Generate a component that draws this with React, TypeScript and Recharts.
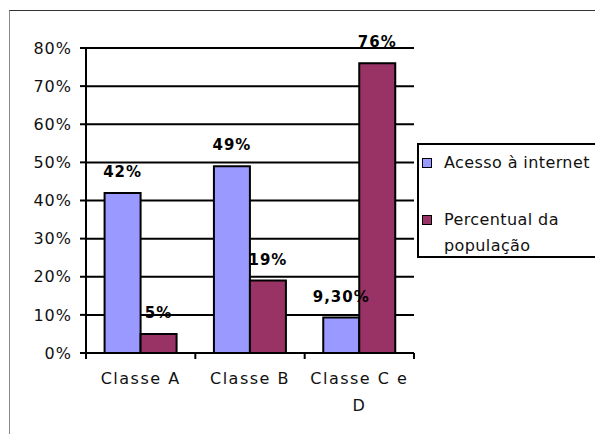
import { BarChart, Bar, XAxis, YAxis, CartesianGrid, LabelList, Text } from 'recharts'

const categories = ['Classe A', 'Classe B', 'Classe C e D']
const acessoInternet = [42, 49, 9.3]
const percentualPopulacao = [5, 19, 76]
const acessoLabels = ['42%', '49%', '9,30%']
const populacaoLabels = ['5%', '19%', '76%']
const yTicks = [0, 10, 20, 30, 40, 50, 60, 70, 80]

const seriesNames = ['Acesso à internet', 'Percentual da população']
const seriesColors = ['#9999FF', '#993366']

const data = categories.map((name, i) => ({
  name,
  acesso: acessoInternet[i],
  populacao: percentualPopulacao[i],
  acessoLabel: acessoLabels[i],
  populacaoLabel: populacaoLabels[i],
}))

const FONT = '"DejaVu Sans", Verdana, sans-serif'

function CategoryTick(props: any) {
  const { x, y, payload, index } = props
  const half = payload?.offset ?? 0
  const axisY = y - 20
  return (
    <g>
      <line x1={x - half} y1={axisY} x2={x - half} y2={axisY + 6} stroke="#000" strokeWidth={2} />
      {index === categories.length - 1 && (
        <line x1={x + half} y1={axisY} x2={x + half} y2={axisY + 6} stroke="#000" strokeWidth={2} />
      )}
      <Text
        x={x}
        y={y}
        width={100}
        textAnchor="middle"
        verticalAnchor="start"
        lineHeight="1.65em"
        fill="#111"
        style={{ fontSize: 16, fontFamily: FONT, letterSpacing: 1.5 }}
      >
        {payload.value}
      </Text>
    </g>
  )
}

// legend drawn as plain html so it does not shrink the plot area
function LegendBox() {
  return (
    <div
      style={{
        position: 'absolute',
        left: 409,
        top: 135,
        boxSizing: 'border-box',
        width: 190,
        height: 115,
        border: '2px solid #000',
        padding: '5px 0 0 3px',
        fontFamily: FONT,
        fontSize: 16,
        letterSpacing: 0.4,
        color: '#111',
        background: '#fff',
        overflow: 'hidden',
      }}
    >
      {seriesNames.map((name, i) => (
        <div
          key={name}
          style={{ display: 'flex', alignItems: 'flex-start', lineHeight: '26px', marginTop: i === 0 ? 0 : 31 }}
        >
          <span
            style={{
              display: 'inline-block',
              boxSizing: 'border-box',
              width: 10,
              height: 10,
              marginTop: 8,
              marginRight: 12,
              border: '1px solid #000',
              background: seriesColors[i],
              flex: 'none',
            }}
          />
          <span style={{ width: 150 }}>{name}</span>
        </div>
      ))}
    </div>
  )
}

export default function App() {
  return (
    <div style={{ position: 'relative', width: 595, height: 426, overflow: 'hidden', background: '#fff' }}>
      <div
        style={{
          position: 'absolute',
          left: 1,
          top: 2,
          width: 594,
          height: 424,
          boxSizing: 'border-box',
          borderTop: '1px solid #333',
          borderLeft: '1px solid #888',
        }}
      />
      <BarChart
        width={595}
        height={426}
        data={data}
        margin={{ top: 40, right: 189, left: 0, bottom: 21 }}
        barCategoryGap="17%"
        barGap={0}
        style={{ position: 'absolute', left: 0, top: 0 }}
      >
        <CartesianGrid vertical={false} stroke="#000" strokeWidth={2} />
        <XAxis
          dataKey="name"
          height={60}
          axisLine={{ stroke: '#000', strokeWidth: 2 }}
          tickLine={false}
          tickSize={0}
          tickMargin={20}
          interval={0}
          tick={<CategoryTick />}
        />
        <YAxis
          width={78}
          domain={[0, 80]}
          ticks={yTicks}
          interval={0}
          tickFormatter={(v) => `${v}%`}
          axisLine={{ stroke: '#000', strokeWidth: 2 }}
          tickLine={{ stroke: '#000', strokeWidth: 2 }}
          tickSize={6}
          tickMargin={8}
          tick={{ fontSize: 16, fontFamily: FONT, fill: '#111', letterSpacing: 1 }}
        />
        <Bar dataKey="acesso" name={seriesNames[0]} fill={seriesColors[0]} stroke="#000" strokeWidth={2} isAnimationActive={false}>
          <LabelList
            dataKey="acessoLabel"
            position="top"
            offset={16}
            style={{ fontSize: 15, fontWeight: 'bold', fontFamily: FONT, fill: '#000', letterSpacing: 1 }}
          />
        </Bar>
        <Bar dataKey="populacao" name={seriesNames[1]} fill={seriesColors[1]} stroke="#000" strokeWidth={2} isAnimationActive={false}>
          <LabelList
            dataKey="populacaoLabel"
            position="top"
            offset={16}
            style={{ fontSize: 15, fontWeight: 'bold', fontFamily: FONT, fill: '#000', letterSpacing: 1 }}
          />
        </Bar>
      </BarChart>
      <LegendBox />
    </div>
  )
}
